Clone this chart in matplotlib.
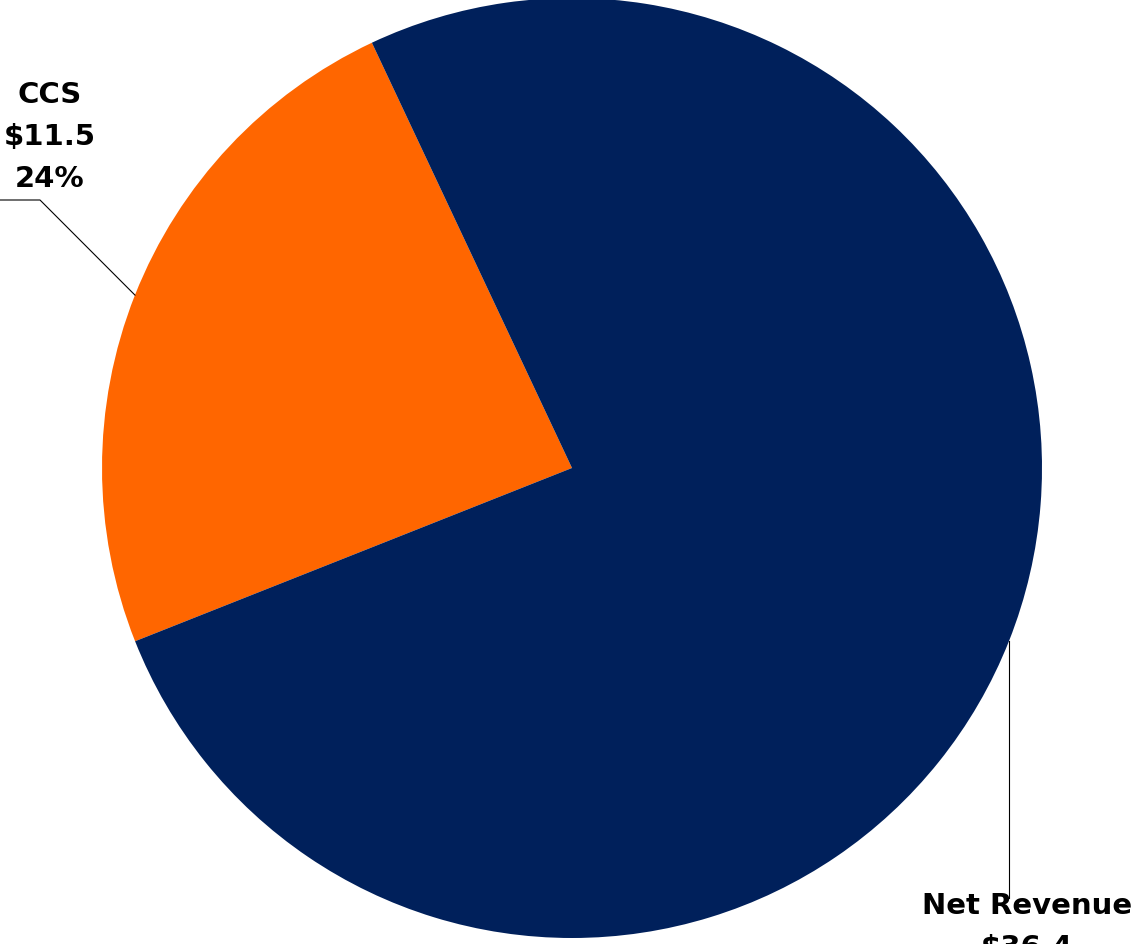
import numpy as np
import matplotlib
matplotlib.use("Agg")
import matplotlib.pyplot as plt

# data
categories = ["CCS", "Net Revenue"]
values = [11.5, 36.4]
pct_labels = ["24%", "76%"]
colors = ["#FF6600", "#00205B"]

plt.rcParams['font.family'] = ['DejaVu Sans']

W, H, dpi = 1134, 944, 100
cx, cy, R = 572, 468, 470  # pie centre / radius in pixels

fig = plt.figure(figsize=(W / dpi, H / dpi), dpi=dpi)
ax = fig.add_axes([0, 0, 1, 1])

start = 115.2
wedges, _ = ax.pie(values, colors=colors, startangle=start, counterclock=True,
                   radius=1.0, center=(0, 0), frame=True,
                   wedgeprops=dict(linewidth=0))
ax.axis('off')
ax.set_aspect('equal')
ax.set_xlim(-cx / R, (W - cx) / R)
ax.set_ylim(-(H - cy) / R, cy / R)

label_kw = dict(fontsize=21, fontweight='bold', color='black', linespacing=1.65)

# CCS label, leader goes up-left then horizontal
w = wedges[0]
mid = np.deg2rad((w.theta1 + w.theta2) / 2)
x0, y0 = np.cos(mid), np.sin(mid)
ex, ey = -532 / R, (cy - 200) / R
ax.plot([x0, ex, -cx / R], [y0, ey, ey], color='black', lw=0.8)
ax.text(ex + 10 / R, ey + 63 / R, f"{categories[0]}\n${values[0]:.1f}\n{pct_labels[0]}",
        ha='center', va='center', **label_kw)

# Net Revenue label, leader goes straight down
w = wedges[1]
mid = np.deg2rad((w.theta1 + w.theta2) / 2)
x1, y1 = np.cos(mid), np.sin(mid)
ey1 = (cy - 898) / R
ax.plot([x1, x1], [y1, ey1], color='black', lw=0.8)
ax.text(x1 + 18 / R, ey1 + 6 / R, f"{categories[1]}\n${values[1]:.1f}\n{pct_labels[1]}",
        ha='center', va='top', **label_kw)

fig.savefig("out.png", dpi=dpi)
